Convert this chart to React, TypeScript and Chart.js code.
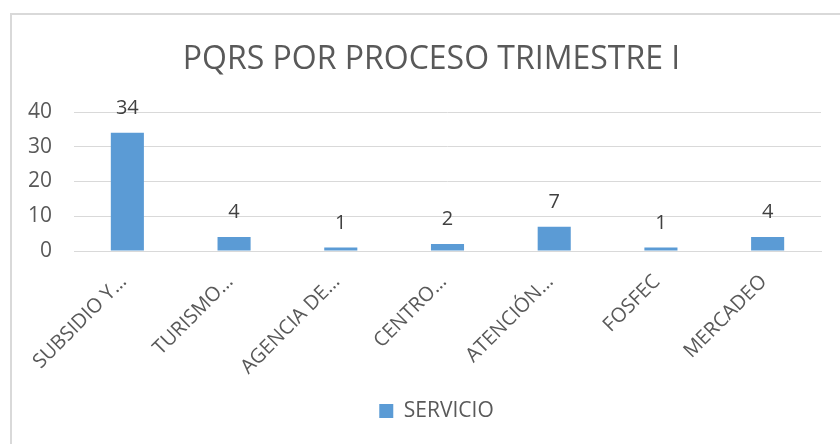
import React, { useEffect, useRef } from "react";
import { Chart, registerables } from "chart.js";

Chart.register(...registerables);

const chartTitle = "PQRS POR PROCESO TRIMESTRE I";
const categories = ["SUBSIDIO Y…", "TURISMO…", "AGENCIA DE…", "CENTRO…", "ATENCIÓN…", "FOSFEC", "MERCADEO"];
const seriesName = "SERVICIO";
const servicio = [34, 4, 1, 2, 7, 1, 4];
const yMin = 0;
const yMax = 40;
const yStep = 10;

const FONT = "'Open Sans', sans-serif";
const TEXT = "#595959";
const GRID = "#d9d9d9";
const BAR = "#5b9bd5";

const framePlugin = {
  id: "frame",
  beforeDraw(chart: any) {
    const ctx = chart.ctx;
    ctx.save();
    ctx.fillStyle = "#ffffff";
    ctx.fillRect(0, 0, chart.width, chart.height);
    ctx.strokeStyle = GRID;
    ctx.lineWidth = 2;
    ctx.strokeRect(11, 14, chart.width + 20, chart.height + 20);
    ctx.restore();
  },
};

// Excel centres title and legend on the full chart frame, which extends past the picture
const centerPlugin = {
  id: "frameCenter",
  afterLayout(chart: any) {
    const t = chart.titleBlock;
    if (t) {
      t.left += 16;
      t.right += 16;
    }
    const l = chart.legend;
    if (l) {
      l.left += 21;
      l.right += 21;
    }
  },
};

const labelPlugin = {
  id: "barLabels",
  afterDatasetsDraw(chart: any) {
    const ctx = chart.ctx;
    ctx.save();
    ctx.font = `20px ${FONT}`;
    ctx.fillStyle = "#404040";
    ctx.textAlign = "center";
    ctx.textBaseline = "middle";
    chart.data.datasets.forEach((ds: any, di: number) => {
      const meta = chart.getDatasetMeta(di);
      meta.data.forEach((el: any, i: number) => {
        ctx.fillText(String(ds.data[i]), el.x, el.y - 24.5);
      });
    });
    ctx.restore();
  },
};

export default function App() {
  const ref = useRef<HTMLCanvasElement | null>(null);
  useEffect(() => {
    if (!ref.current) return;
    const chart = new Chart(ref.current, {
      type: "bar",
      data: {
        labels: categories,
        datasets: [
          {
            label: seriesName,
            data: servicio,
            backgroundColor: BAR,
            borderWidth: 0,
            barPercentage: 0.31,
            categoryPercentage: 1,
          },
        ],
      },
      options: {
        animation: false,
        responsive: false,
        devicePixelRatio: 1,
        layout: { padding: { left: 10, right: 19, top: 0, bottom: 12.5 } },
        plugins: {
          title: {
            display: true,
            text: chartTitle,
            color: TEXT,
            font: { family: FONT, size: 32, weight: "normal", lineHeight: 1.2 },
            padding: { top: 41, bottom: 32.6 },
          },
          legend: {
            display: true,
            position: "bottom",
            labels: {
              color: TEXT,
              font: { family: FONT, size: 21 },
              boxWidth: 14,
              boxHeight: 14,
              padding: 10,
            },
          },
          tooltip: { enabled: false },
        },
        scales: {
          x: {
            grid: { display: false, drawTicks: false },
            border: { display: true, color: GRID, width: 1 },
            ticks: {
              color: TEXT,
              font: { family: FONT, size: 20 },
              minRotation: 45,
              maxRotation: 45,
              padding: 19,
              labelOffset: -4,
              autoSkip: false,
            },
            afterFit(scale: any) {
              scale.height = 139.5;
            },
          },
          y: {
            min: yMin,
            max: yMax,
            grid: { color: GRID, drawTicks: false, lineWidth: 1 },
            border: { display: false },
            ticks: {
              stepSize: yStep,
              color: TEXT,
              font: { family: FONT, size: 21 },
              padding: 22,
            },
            afterFit(scale: any) {
              scale.width = 64;
            },
          },
        },
      },
      plugins: [framePlugin, centerPlugin, labelPlugin],
    });
    return () => chart.destroy();
  }, []);
  return (
    <div style={{ position: "fixed", left: 0, top: 0, width: 840, height: 444, overflow: "hidden", background: "#fff" }}>
      <canvas ref={ref} width={840} height={444} style={{ display: "block", width: 840, height: 444 }} />
    </div>
  );
}
